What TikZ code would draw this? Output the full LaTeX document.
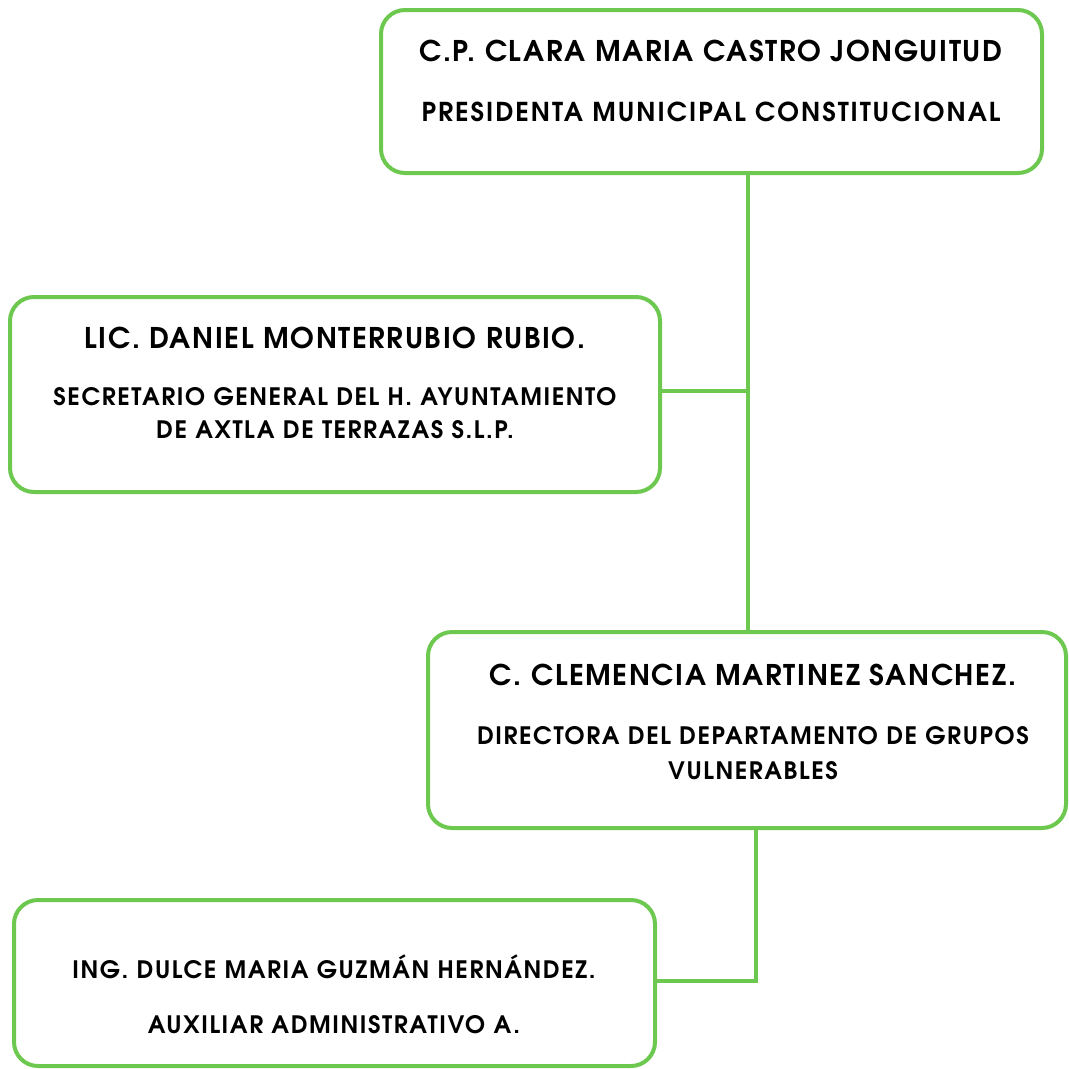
\documentclass[tikz,border=0pt]{standalone}
\usepackage{fontspec}
\setmainfont{TeX Gyre Adventor}
\usepackage{xcolor}
\definecolor{verde}{RGB}{108,200,78}

\begin{document}
\begin{tikzpicture}[x=1pt,y=-1pt]
        \tikzstyle{caja}=[draw=verde, line width=4pt, rounded corners=24pt, inner sep=0pt]
        \tikzstyle{nombre}=[font=\bfseries\fontsize{28.5}{30}\selectfont\addfontfeatures{LetterSpace=5.5}, anchor=base, inner sep=0pt]
        \tikzstyle{cargo}=[font=\bfseries\fontsize{24}{26}\selectfont\addfontfeatures{LetterSpace=6.5}, anchor=base, inner sep=0pt]
        \tikzstyle{linea}=[draw=verde, line width=4pt]

        \useasboundingbox (0,0) rectangle (1069,1069);

        % cajas
        \node[caja, minimum width=661pt, minimum height=163pt] (presidenta) at (711.5,91.5) {};
        \node[caja, minimum width=650pt, minimum height=195pt] (secretario) at (335,394.5) {};
        \node[caja, minimum width=638pt, minimum height=196pt] (directora) at (747,730) {};
        \node[caja, minimum width=641pt, minimum height=166pt] (auxiliar) at (334.5,983) {};

        % textos
        \node[nombre] (t1) at (711,61) {C.P. CLARA MARIA CASTRO JONGUITUD};
        \node[cargo, font=\bfseries\fontsize{26}{28}\selectfont\addfontfeatures{LetterSpace=7.5}] (t2) at (711,121) {PRESIDENTA MUNICIPAL CONSTITUCIONAL};

        \node[nombre] (t3) at (335,348) {LIC. DANIEL MONTERRUBIO RUBIO.};
        \node[cargo] (t4) at (335,405) {SECRETARIO GENERAL DEL H. AYUNTAMIENTO};
        \node[cargo] (t5) at (335,438) {DE AXTLA DE TERRAZAS S.L.P.};

        \node[nombre] (t6) at (753,685) {C. CLEMENCIA MARTINEZ SANCHEZ.};
        \node[cargo] (t7) at (753,744) {DIRECTORA DEL DEPARTAMENTO DE GRUPOS};
        \node[cargo] (t8) at (753,779) {VULNERABLES};

        \node[cargo] (t9) at (334,978) {ING. DULCE MARIA GUZMÁN HERNÁNDEZ.};
        \node[cargo] (t10) at (334,1033) {AUXILIAR ADMINISTRATIVO A.};

        % conectores
        \coordinate (tronco) at (748,391);
        \coordinate (codo) at (756,981);

        \draw[linea] (tronco |- presidenta.south) -- (tronco |- directora.north);
        \draw[linea] (secretario.east |- tronco) -- (tronco);
        \draw[linea] (codo |- directora.south) -- (codo) -- (codo -| auxiliar.east);
      \end{tikzpicture}
\end{document}
